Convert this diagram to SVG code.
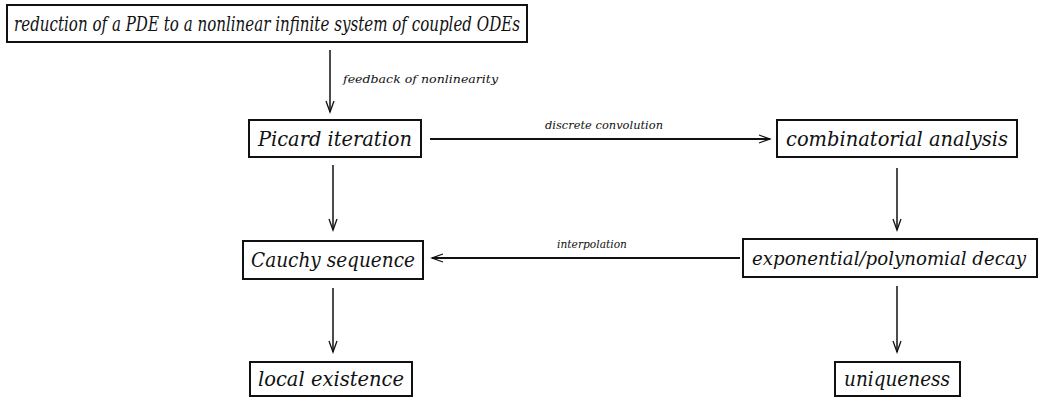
<svg xmlns="http://www.w3.org/2000/svg" width="1042" height="398" viewBox="0 0 1042 398">
<style>
.box{fill:#fff;stroke:#111;stroke-width:2}
.t{font-family:'DejaVu Serif','Liberation Serif',serif;font-style:italic;font-size:21px;fill:#111;text-anchor:middle}
.lbl{font-family:'DejaVu Serif','Liberation Serif',serif;font-style:italic;font-size:11px;fill:#111}
.c{stroke:#111;stroke-width:1.5;fill:none}
.h{stroke:#111;stroke-width:2;fill:none}
.ah{stroke:#111;stroke-width:1.3;fill:none}
</style>
<rect width="1042" height="398" fill="#fff"/>
<g id="connectors">
<line class="c" x1="330" y1="50" x2="330" y2="112"/>
<polyline class="ah" points="326,101 330,112 334,101"/>
<text class="lbl" x="343" y="83" textLength="155" lengthAdjust="spacingAndGlyphs">feedback of nonlinearity</text>
<line class="h" x1="430" y1="139" x2="770" y2="139"/>
<polyline class="ah" points="759,135 770,139 759,143"/>
<text class="lbl" x="604" y="129" text-anchor="middle" textLength="118" lengthAdjust="spacingAndGlyphs">discrete convolution</text>
<line class="c" x1="333" y1="165" x2="333" y2="230"/>
<polyline class="ah" points="329,219 333,230 337,219"/>
<line class="c" x1="897" y1="168" x2="897" y2="230"/>
<polyline class="ah" points="893,219 897,230 901,219"/>
<line class="h" x1="740" y1="258" x2="432" y2="258"/>
<polyline class="ah" points="443,254 432,258 443,262"/>
<text class="lbl" x="592" y="248" text-anchor="middle" textLength="70" lengthAdjust="spacingAndGlyphs">interpolation</text>
<line class="c" x1="333" y1="288" x2="333" y2="352"/>
<polyline class="ah" points="329,341 333,352 337,341"/>
<line class="c" x1="897" y1="286" x2="897" y2="352"/>
<polyline class="ah" points="893,341 897,352 901,341"/>
</g>
<g id="n-reduction"><rect class="box" x="7" y="5" width="520" height="37"/><text class="t" x="267" y="31" textLength="506" lengthAdjust="spacingAndGlyphs">reduction of a PDE to a nonlinear infinite system of coupled ODEs</text></g>
<g id="n-picard"><rect class="box" x="249" y="120" width="172" height="37"/><text class="t" x="335" y="146" textLength="154" lengthAdjust="spacingAndGlyphs">Picard iteration</text></g>
<g id="n-combinatorial"><rect class="box" x="777" y="120" width="240" height="37"/><text class="t" x="897" y="146" textLength="222" lengthAdjust="spacingAndGlyphs">combinatorial analysis</text></g>
<g id="n-cauchy"><rect class="box" x="243" y="241" width="180" height="38"/><text class="t" x="333" y="267" textLength="164" lengthAdjust="spacingAndGlyphs">Cauchy sequence</text></g>
<g id="n-decay"><rect class="box" x="743" y="239" width="294" height="38"/><text class="t" x="889" y="265" style="font-size:18px" textLength="274" lengthAdjust="spacingAndGlyphs">exponential/polynomial decay</text></g>
<g id="n-local"><rect class="box" x="250" y="362" width="162" height="34"/><text class="t" x="331" y="386" textLength="146" lengthAdjust="spacingAndGlyphs">local existence</text></g>
<g id="n-unique"><rect class="box" x="835" y="362" width="125" height="34"/><text class="t" x="897" y="386" textLength="106" lengthAdjust="spacingAndGlyphs">uniqueness</text></g>
</svg>
